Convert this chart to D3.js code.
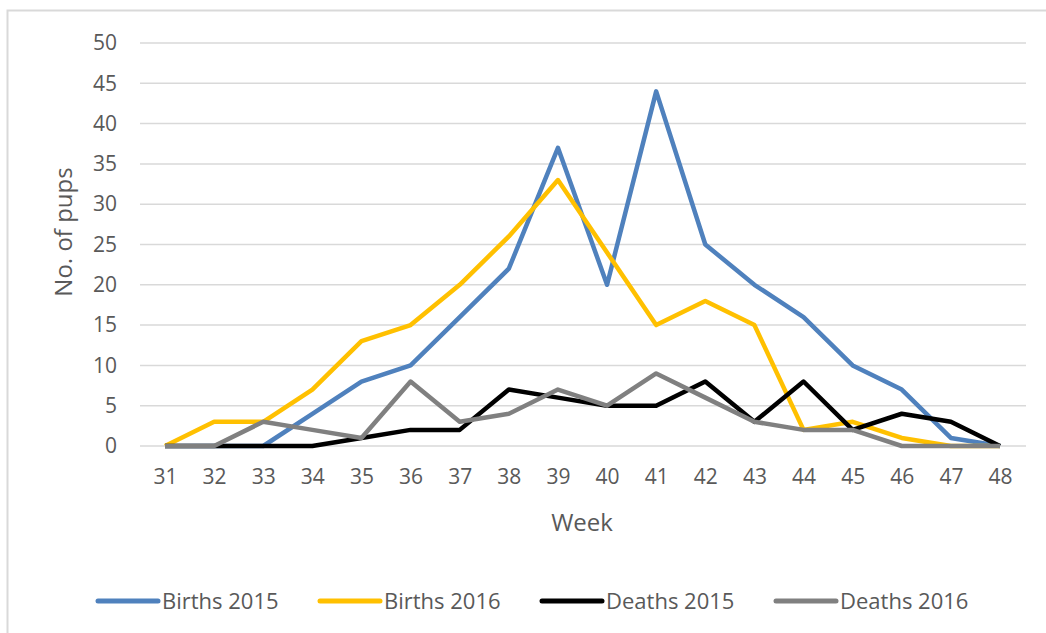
<!DOCTYPE html>
<head>
  <meta charset="utf-8">
  <script src="https://d3js.org/d3.v7.min.js"></script>
  <title>No. of pups per week</title>
  <style>
    body { margin: 0; background: #fff; }
    svg { display: block; }
    text { font-family: 'Open Sans', sans-serif; fill: #595959; }
    .grid line { stroke: #d9d9d9; stroke-width: 1.5px; }
    .line { fill: none; stroke-width: 4.5; stroke-linejoin: round; }
  </style>
</head>
<body>
  <svg width="1046" height="633"></svg>
<script>

var weeks = [31, 32, 33, 34, 35, 36, 37, 38, 39, 40, 41, 42, 43, 44, 45, 46, 47, 48];
var births2015 = [0, 0, 0, 4, 8, 10, 16, 22, 37, 20, 44, 25, 20, 16, 10, 7, 1, 0];
var births2016 = [0, 3, 3, 7, 13, 15, 20, 26, 33, 24, 15, 18, 15, 2, 3, 1, 0, 0];
var deaths2015 = [0, 0, 0, 0, 1, 2, 2, 7, 6, 5, 5, 8, 3, 8, 2, 4, 3, 0];
var deaths2016 = [0, 0, 3, 2, 1, 8, 3, 4, 7, 5, 9, 6, 3, 2, 2, 0, 0, 0];
var seriesNames = ["Births 2015", "Births 2016", "Deaths 2015", "Deaths 2016"];
var seriesColors = ["#4f81bd", "#ffc000", "#000000", "#808080"];
var yTicks = [0, 5, 10, 15, 20, 25, 30, 35, 40, 45, 50];

var series = [births2015, births2016, deaths2015, deaths2016].map(function(vals, i) {
  return {
    id: seriesNames[i],
    color: seriesColors[i],
    values: weeks.map(function(w, j) { return {week: w, n: vals[j]}; })
  };
});

var svg = d3.select("svg");

// chart frame
svg.append("rect")
    .attr("x", 7.5).attr("y", 10.5)
    .attr("width", 1060).attr("height", 640)
    .attr("fill", "none")
    .attr("stroke", "#d9d9d9")
    .attr("stroke-width", 2);

var plot = {left: 140, right: 1026, top: 43, bottom: 446};

var xRange = d3.scalePoint()
    .domain(weeks)
    .range([165, 1000]);

var yRange = d3.scaleLinear()
    .domain([0, 50])
    .range([plot.bottom, plot.top]);

var line = d3.line()
    .x(function(d) { return xRange(d.week); })
    .y(function(d) { return yRange(d.n); });

// horizontal gridlines
svg.append("g")
    .attr("class", "grid")
    .selectAll("line")
    .data(yTicks)
    .enter().append("line")
    .attr("x1", plot.left).attr("x2", plot.right)
    .attr("y1", function(d) { return yRange(d); })
    .attr("y2", function(d) { return yRange(d); });

// y axis labels
var yAxis = svg.append("g")
    .attr("transform", "translate(" + (plot.left - 10) + ",0)")
    .call(d3.axisLeft(yRange).tickValues(yTicks).tickSize(0).tickPadding(13));
yAxis.select(".domain").remove();
yAxis.selectAll("text")
    .style("font-size", "21px")
    .attr("fill", "#595959");

// x axis labels
var xAxis = svg.append("g")
    .attr("transform", "translate(0," + plot.bottom + ")")
    .call(d3.axisBottom(xRange).tickSize(0).tickPadding(23));
xAxis.select(".domain").remove();
xAxis.selectAll("text")
    .style("font-size", "21px")
    .attr("fill", "#595959");

// axis titles
svg.append("text")
    .attr("x", 582).attr("y", 531)
    .attr("text-anchor", "middle")
    .style("font-size", "24px")
    .text("Week");

svg.append("text")
    .attr("transform", "translate(72,232) rotate(-90)")
    .attr("text-anchor", "middle")
    .style("font-size", "24px")
    .text("No. of pups");

// lines
svg.selectAll(".line")
    .data(series)
    .enter().append("path")
    .attr("class", "line")
    .attr("d", function(d) { return line(d.values); })
    .style("stroke", function(d) { return d.color; });

// legend
var legendX = [98, 320, 542, 776];
var legend = svg.selectAll(".legend")
    .data(series)
    .enter().append("g")
    .attr("class", "legend")
    .attr("transform", function(d, i) { return "translate(" + legendX[i] + ",601)"; });

legend.append("line")
    .attr("x1", 0).attr("x2", 60)
    .attr("stroke", function(d) { return d.color; })
    .attr("stroke-width", 5)
    .attr("stroke-linecap", "round");

legend.append("text")
    .attr("x", 64)
    .attr("dy", "0.35em")
    .style("font-size", "22px")
    .text(function(d) { return d.id; });

</script>
</body>
